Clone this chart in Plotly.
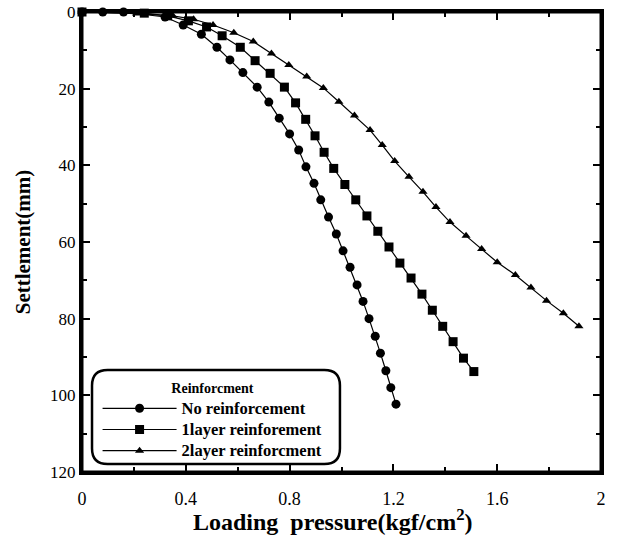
import plotly.graph_objects as go

# Data
no_x = [0.0, 0.08, 0.16, 0.32, 0.39, 0.46, 0.52, 0.57, 0.62, 0.675, 0.72, 0.76, 0.80, 0.835,
        0.863, 0.894, 0.92, 0.95, 0.98, 1.006, 1.033, 1.06, 1.083, 1.106, 1.13, 1.15, 1.171, 1.19, 1.21]
no_y = [0.0, 0.0, 0.0, 1.3, 3.4, 5.8, 9.2, 12.5, 15.8, 19.6, 23.5, 27.7, 31.8, 36.0,
        40.4, 44.7, 49.0, 53.5, 57.9, 62.3, 66.6, 71.2, 75.5, 80.0, 84.6, 89.0, 93.6, 98.0, 102.3]

one_x = [0.0, 0.24, 0.33, 0.41, 0.48, 0.54, 0.61, 0.667, 0.725, 0.78, 0.823, 0.862, 0.898, 0.933,
         0.97, 1.013, 1.055, 1.098, 1.14, 1.183, 1.225, 1.268, 1.31, 1.35, 1.39, 1.43, 1.47, 1.51]
one_y = [0.0, 0.3, 1.0, 2.3, 3.9, 6.2, 9.2, 12.7, 16.0, 19.6, 23.7, 28.0, 32.3, 36.6,
         40.8, 45.0, 49.0, 53.2, 57.2, 61.3, 65.5, 69.4, 73.6, 77.8, 82.0, 86.0, 90.3, 93.8]

two_x = [0.0, 0.21, 0.35, 0.43, 0.505, 0.585, 0.66, 0.73, 0.797, 0.866, 0.93, 0.99, 1.05, 1.11,
         1.157, 1.205, 1.26, 1.314, 1.364, 1.418, 1.48, 1.54, 1.60, 1.67, 1.73, 1.79, 1.855, 1.915]
two_y = [0.0, 0.4, 1.0, 1.9, 3.4, 5.4, 7.7, 10.8, 13.8, 16.8, 19.8, 23.4, 27.0, 30.8,
         34.7, 38.9, 43.0, 46.9, 50.9, 54.8, 58.4, 61.8, 65.3, 68.6, 71.9, 75.3, 78.6, 82.0]

series_names = ["No reinforcement", "1layer reinforement", "2layer reinforcment"]
x_ticks = [0, 0.4, 0.8, 1.2, 1.6, 2]
x_tick_labels = ["0", "0.4", "0.8", "1.2", "1.6", "2"]
y_ticks = [0, 20, 40, 60, 80, 100, 120]

FONT = "Liberation Serif"

fig = go.Figure()
fig.add_trace(go.Scatter(x=no_x, y=no_y, name=series_names[0], mode="lines+markers",
                         line=dict(color="black", width=1.2),
                         marker=dict(symbol="circle", size=9, color="black"), cliponaxis=False))
fig.add_trace(go.Scatter(x=one_x, y=one_y, name=series_names[1], mode="lines+markers",
                         line=dict(color="black", width=1.2),
                         marker=dict(symbol="square", size=9, color="black"), cliponaxis=False))
fig.add_trace(go.Scatter(x=two_x, y=two_y, name=series_names[2], mode="lines+markers",
                         line=dict(color="black", width=1.2),
                         marker=dict(symbol="triangle-up", size=8, color="black"), cliponaxis=False))

# Rounded legend frame
x0, x1, y0, y1, r = 0.0193, 0.497, 0.0174, 0.2217, 0.03
ry = r * 519 / 460
path = (f"M {x0+r},{y1} L {x1-r},{y1} Q {x1},{y1} {x1},{y1-ry} "
        f"L {x1},{y0+ry} Q {x1},{y0} {x1-r},{y0} L {x0+r},{y0} Q {x0},{y0} {x0},{y0+ry} "
        f"L {x0},{y1-ry} Q {x0},{y1} {x0+r},{y1} Z")
fig.add_shape(type="path", xref="paper", yref="paper", path=path,
              line=dict(color="black", width=2.5), fillcolor="white", layer="below")
# Plot frame
fig.add_shape(type="rect", xref="paper", yref="paper", x0=0, x1=1, y0=0, y1=1,
              line=dict(color="black", width=3), fillcolor="rgba(0,0,0,0)", layer="above")

# X-axis title
fig.add_annotation(text="<b>Loading  pressure(kgf/cm<sup>2</sup>)</b>", xref="paper", yref="paper",
                   x=0.4836, y=-0.104, xanchor="center", yanchor="middle", showarrow=False,
                   font=dict(family=FONT, size=24, color="black"))

axis_common = dict(showgrid=False, zeroline=False, showline=True, linecolor="black", linewidth=3,
                   mirror="allticks", ticks="inside", ticklen=8, tickwidth=2, tickcolor="black",
                   automargin=False)

fig.update_layout(
    width=617, height=535,
    margin=dict(l=82, r=16, t=12, b=63),
    paper_bgcolor="white", plot_bgcolor="white",
    font=dict(family=FONT, color="black"),
    xaxis=dict(range=[0, 2], tickvals=x_ticks, ticktext=x_tick_labels,
               tickfont=dict(family=FONT, size=18, color="black"), ticklabelstandoff=8,
               minor=dict(dtick=0.2, ticks="inside", ticklen=5, tickwidth=2, tickcolor="black"),
               **axis_common),
    yaxis=dict(range=[120, 0], tickvals=y_ticks,
               tickfont=dict(family=FONT, size=17, color="black"),
               minor=dict(dtick=10, ticks="inside", ticklen=5, tickwidth=2, tickcolor="black"),
               title=dict(text="<b>Settlement(mm)</b>", font=dict(family=FONT, size=21, color="black"),
                          standoff=14),
               **axis_common),
    legend=dict(x=0.03, y=0.212, xanchor="left", yanchor="top",
                bgcolor="rgba(0,0,0,0)", borderwidth=0,
                font=dict(family=FONT, size=14, color="black"),
                title=dict(text="<b>Reinforcment</b>", side="top center",
                           font=dict(family=FONT, size=14, color="black")),
                tracegroupgap=0, itemwidth=74),
    showlegend=True,
)
for tr in fig.data:
    tr.name = f"<span style='font-size:16.5px'><b>{tr.name}</b></span>"

fig.write_html("out.html", config={"displayModeBar": False},
               post_script="document.body.style.margin='0';")
